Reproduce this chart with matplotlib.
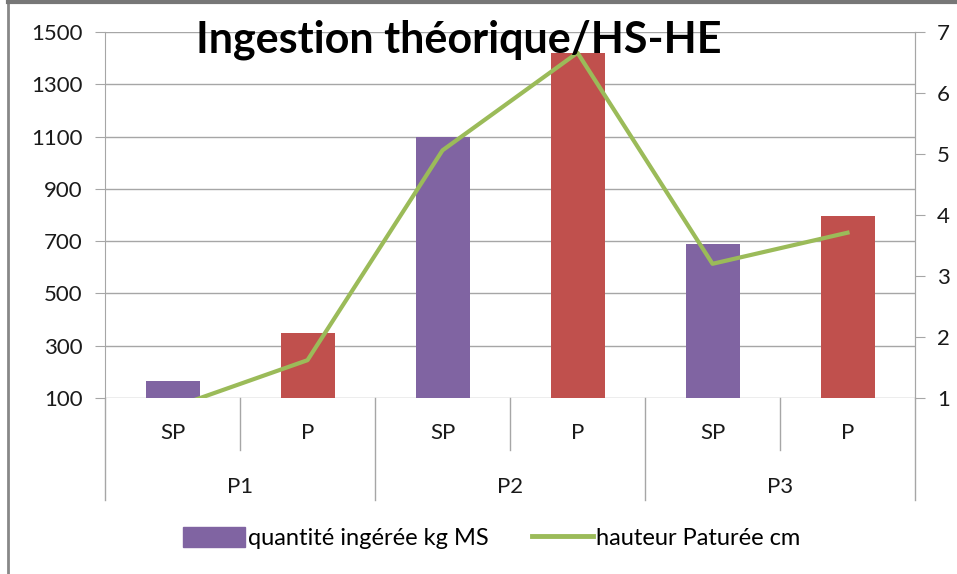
import numpy as np
import matplotlib.pyplot as plt
from matplotlib.lines import Line2D
from matplotlib.patches import Patch

plt.rcParams['font.family'] = ['Lato', 'DejaVu Sans']

# données
groupes = ['P1', 'P2', 'P3']
sous_cat = ['SP', 'P', 'SP', 'P', 'SP', 'P']
quantite = [165, 348, 1097, 1420, 690, 797]      # kg MS
hauteur = [0.84, 1.62, 5.06, 6.66, 3.2, 3.71]    # cm

violet = '#8064A2'
rouge = '#C0504D'
vert = '#9BBB59'
gris = '#A6A6A6'
texte = '#1a1a1a'

fig = plt.figure(figsize=(9.57, 5.74), dpi=100)
ax = fig.add_axes([105 / 957, 1 - 398 / 574, 810 / 957, 366 / 574])

x = np.arange(len(quantite))
couleurs = [violet if s == 'SP' else rouge for s in sous_cat]
ax.bar(x, quantite, width=0.4, color=couleurs, zorder=3)
ax.set_ylim(100, 1500)
ax.set_xlim(-0.5, len(x) - 0.5)
ax.set_yticks(np.arange(100, 1501, 200))
ax.yaxis.grid(True, color=gris, lw=1, zorder=0)
ax.tick_params(axis='y', length=7, color=gris, labelsize=16, labelcolor=texte, pad=9)
ax.set_xticks([])
for s in ['top', 'bottom']:
    ax.spines[s].set_visible(False)
ax.spines['left'].set_color(gris)
ax.spines['right'].set_color(gris)

# axe secondaire
ax2 = ax.twinx()
ax2.plot(x, hauteur, color=vert, lw=3, zorder=4)
ax2.set_ylim(1, 7)
ax2.set_yticks(range(1, 8))
ax2.tick_params(axis='y', length=7, color=gris, labelsize=16, labelcolor=texte, pad=9)
for s in ['top', 'bottom', 'left']:
    ax2.spines[s].set_visible(False)
ax2.spines['right'].set_color(gris)

# axe des catégories à deux niveaux
tr = ax.get_xaxis_transform()
for b in [0.5, 2.5, 4.5]:
    ax.plot([b, b], [0, -0.142], transform=tr, color=gris, lw=1, clip_on=False)
for b in [-0.5, 1.5, 3.5, 5.5]:
    ax.plot([b, b], [0, -0.279], transform=tr, color=gris, lw=1, clip_on=False)
for i, s in enumerate(sous_cat):
    ax.text(i, -0.096, s, transform=tr, ha='center', va='center', fontsize=16, color=texte)
for i, g in enumerate(groupes):
    ax.text(2 * i + 0.5, -0.243, g, transform=tr, ha='center', va='center', fontsize=16, color=texte)

fig.text(459 / 957, 1 - 40 / 574, 'Ingestion théorique/HS-HE', ha='center', va='center',
         fontsize=31, fontweight='bold', color='black')

poignees = [Patch(color=violet), Line2D([], [], color=vert, lw=3.5)]
fig.legend(poignees, ['quantité ingérée kg MS', 'hauteur Paturée cm'], loc='center',
           bbox_to_anchor=(492 / 957, 1 - 538 / 574), ncol=2, frameon=False, fontsize=17,
           handlelength=2.6, handleheight=0.9, columnspacing=1.8, handletextpad=0.15)

# cadre de la capture
fig.add_artist(Line2D([8 / 957, 8 / 957], [0, 1 - 2 / 574], transform=fig.transFigure, color='#888888', lw=2))
fig.add_artist(Line2D([8 / 957, 1], [1 - 2 / 574, 1 - 2 / 574], transform=fig.transFigure, color='#777777', lw=3))

fig.savefig('out.png', dpi=100)
